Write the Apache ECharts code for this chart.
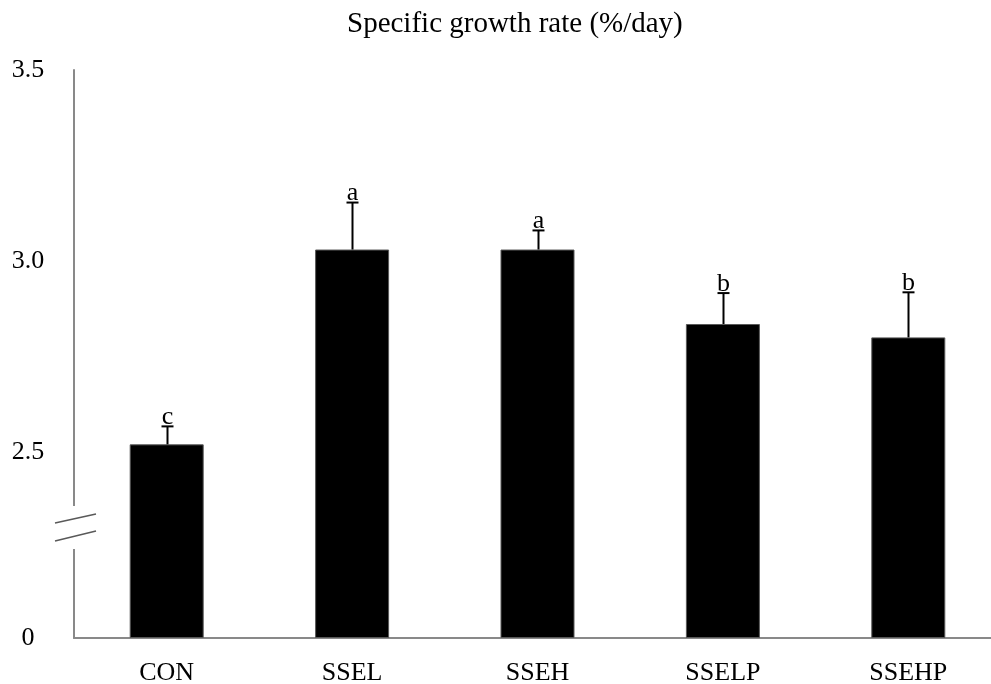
<!DOCTYPE html>
<html>
<head>
<meta charset="utf-8">
<script src="https://cdn.jsdelivr.net/npm/echarts@6/dist/echarts.min.js"></script>
<style>html,body{margin:0;padding:0;background:#fff}#chart{width:991px;height:684px}</style>
</head>
<body>
<div id="chart"></div>
<script>
var categories = ['CON', 'SSEL', 'SSEH', 'SSELP', 'SSEHP'];
var means = [2.52, 3.03, 3.03, 2.835, 2.80];
var errors = [0.047, 0.123, 0.05, 0.081, 0.118];
var letters = ['c', 'a', 'a', 'b', 'b'];
var yTicks = [0, 2.5, 3.0, 3.5];
var yTickLabels = ['0', '2.5', '3.0', '3.5'];

// broken axis: values from 0 to 2.5 are compressed into BREAK_SPAN units
var BREAK_FROM = 2.5;
var BREAK_SPAN = 0.487;
function tf(v) { return v <= 0 ? 0 : v - BREAK_FROM + BREAK_SPAN; }

var FONT = 'Liberation Serif';
var chart = echarts.init(document.getElementById('chart'));

var errData = categories.map(function (c, i) {
  return [i, tf(means[i] + errors[i]), tf(means[i])];
});

chart.setOption({
  animation: false,
  backgroundColor: '#fff',
  title: {
    text: 'Specific growth rate (%/day)',
    left: 342, top: 5,
    textStyle: { fontFamily: FONT, fontSize: 29, fontWeight: 'normal', color: '#000' }
  },
  grid: { left: 74, top: 70, width: 927, height: 568, outerBoundsMode: 'none', containLabel: false },
  xAxis: {
    type: 'category',
    data: categories,
    axisLine: { lineStyle: { color: '#898989', width: 2 } },
    axisTick: { show: false },
    axisLabel: { fontFamily: FONT, fontSize: 26, color: '#000', margin: 22 }
  },
  yAxis: {
    type: 'value',
    min: 0,
    max: tf(3.5),
    splitLine: { show: false },
    axisLine: { show: true, lineStyle: { color: '#898989', width: 2 } },
    axisTick: { show: false },
    axisLabel: {
      customValues: yTicks.map(tf),
      fontFamily: FONT, fontSize: 26, color: '#000',
      align: 'center', margin: 46,
      formatter: function (v) {
        for (var i = 0; i < yTicks.length; i++) {
          if (Math.abs(tf(yTicks[i]) - v) < 1e-6) return yTickLabels[i];
        }
        return '';
      }
    }
  },
  series: [
    {
      type: 'bar',
      data: means.map(tf),
      barWidth: 74,
      itemStyle: { color: '#000', borderColor: '#595959', borderWidth: 1 }
    },
    {
      type: 'custom',
      data: errData,
      z: 10,
      renderItem: function (params, api) {
        var top = api.coord([api.value(0), api.value(1)]);
        var base = api.coord([api.value(0), api.value(2)]);
        var x = Math.round(top[0]) + 0.5;
        return {
          type: 'group',
          children: [
            { type: 'line', shape: { x1: x, y1: base[1], x2: x, y2: top[1] }, style: { stroke: '#000', lineWidth: 2 } },
            { type: 'line', shape: { x1: x - 6, y1: top[1], x2: x + 6, y2: top[1] }, style: { stroke: '#000', lineWidth: 2 } },
            { type: 'text', x: x, y: top[1] + 4, style: { text: letters[params.dataIndex], fontFamily: FONT, fontSize: 26, fill: '#000', align: 'center', verticalAlign: 'bottom' } }
          ]
        };
      }
    }
  ],
  graphic: [
    { type: 'rect', z: 100, shape: { x: 68, y: 506, width: 12, height: 43 }, style: { fill: '#fff' } },
    { type: 'line', z: 101, shape: { x1: 55, y1: 523, x2: 96, y2: 514 }, style: { stroke: '#595959', lineWidth: 1.5 } },
    { type: 'line', z: 101, shape: { x1: 55, y1: 541, x2: 96, y2: 531 }, style: { stroke: '#595959', lineWidth: 1.5 } }
  ]
});
</script>
</body>
</html>
